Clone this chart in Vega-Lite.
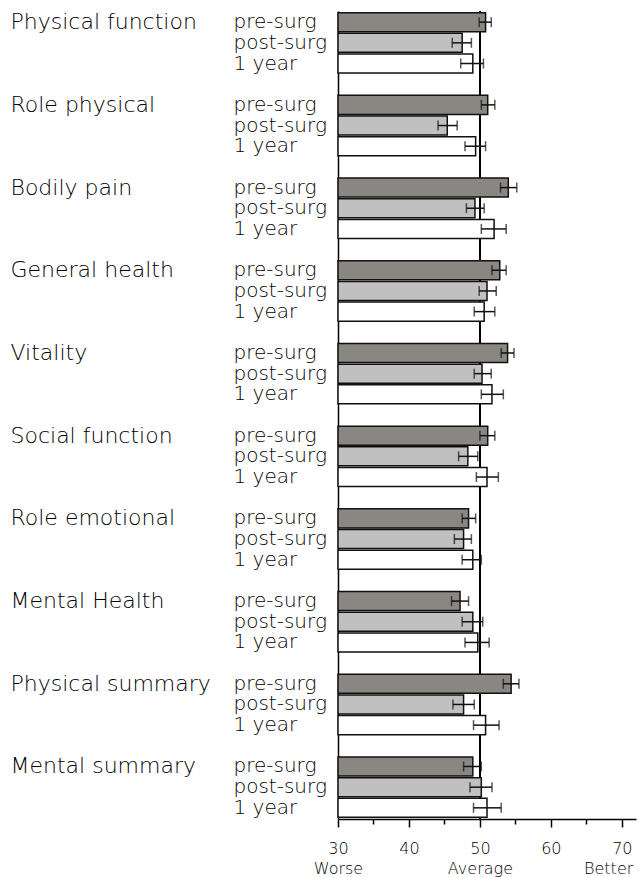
{
  "$schema": "https://vega.github.io/schema/vega-lite/v6.json",
  "autosize": {"type": "none"},
  "width": 298,
  "height": 808,
  "padding": {"left": 338, "top": 11, "right": 3, "bottom": 58},
  "background": "white",
  "config": {"view": {"stroke": null}},
  "data": {"values": [
    {"key": "Physical function|pre-surg", "group": "Physical function", "time": "pre-surg", "value": 50.8, "lo": 49.9, "hi": 51.6},
    {"key": "Physical function|post-surg", "group": "Physical function", "time": "post-surg", "value": 47.5, "lo": 46.1, "hi": 48.8},
    {"key": "Physical function|1 year", "group": "Physical function", "time": "1 year", "value": 49.0, "lo": 47.3, "hi": 50.5},
    {"key": "Role physical|pre-surg", "group": "Role physical", "time": "pre-surg", "value": 51.1, "lo": 50.2, "hi": 52.1},
    {"key": "Role physical|post-surg", "group": "Role physical", "time": "post-surg", "value": 45.4, "lo": 44.1, "hi": 46.8},
    {"key": "Role physical|1 year", "group": "Role physical", "time": "1 year", "value": 49.4, "lo": 47.9, "hi": 50.8},
    {"key": "Bodily pain|pre-surg", "group": "Bodily pain", "time": "pre-surg", "value": 54.0, "lo": 52.9, "hi": 55.2},
    {"key": "Bodily pain|post-surg", "group": "Bodily pain", "time": "post-surg", "value": 49.3, "lo": 48.1, "hi": 50.6},
    {"key": "Bodily pain|1 year", "group": "Bodily pain", "time": "1 year", "value": 52.0, "lo": 50.2, "hi": 53.7},
    {"key": "General health|pre-surg", "group": "General health", "time": "pre-surg", "value": 52.8, "lo": 51.7, "hi": 53.7},
    {"key": "General health|post-surg", "group": "General health", "time": "post-surg", "value": 51.0, "lo": 49.9, "hi": 52.3},
    {"key": "General health|1 year", "group": "General health", "time": "1 year", "value": 50.6, "lo": 49.2, "hi": 52.1},
    {"key": "Vitality|pre-surg", "group": "Vitality", "time": "pre-surg", "value": 53.9, "lo": 53.0, "hi": 54.8},
    {"key": "Vitality|post-surg", "group": "Vitality", "time": "post-surg", "value": 50.3, "lo": 49.2, "hi": 51.6},
    {"key": "Vitality|1 year", "group": "Vitality", "time": "1 year", "value": 51.7, "lo": 50.2, "hi": 53.3},
    {"key": "Social function|pre-surg", "group": "Social function", "time": "pre-surg", "value": 51.1, "lo": 50.0, "hi": 52.1},
    {"key": "Social function|post-surg", "group": "Social function", "time": "post-surg", "value": 48.3, "lo": 47.0, "hi": 49.7},
    {"key": "Social function|1 year", "group": "Social function", "time": "1 year", "value": 51.0, "lo": 49.5, "hi": 52.6},
    {"key": "Role emotional|pre-surg", "group": "Role emotional", "time": "pre-surg", "value": 48.4, "lo": 47.5, "hi": 49.4},
    {"key": "Role emotional|post-surg", "group": "Role emotional", "time": "post-surg", "value": 47.7, "lo": 46.4, "hi": 48.8},
    {"key": "Role emotional|1 year", "group": "Role emotional", "time": "1 year", "value": 49.0, "lo": 47.5, "hi": 50.2},
    {"key": "Mental Health|pre-surg", "group": "Mental Health", "time": "pre-surg", "value": 47.2, "lo": 46.0, "hi": 48.4},
    {"key": "Mental Health|post-surg", "group": "Mental Health", "time": "post-surg", "value": 49.0, "lo": 47.5, "hi": 50.4},
    {"key": "Mental Health|1 year", "group": "Mental Health", "time": "1 year", "value": 49.7, "lo": 47.9, "hi": 51.3},
    {"key": "Physical summary|pre-surg", "group": "Physical summary", "time": "pre-surg", "value": 54.4, "lo": 53.3, "hi": 55.5},
    {"key": "Physical summary|post-surg", "group": "Physical summary", "time": "post-surg", "value": 47.7, "lo": 46.2, "hi": 49.2},
    {"key": "Physical summary|1 year", "group": "Physical summary", "time": "1 year", "value": 50.8, "lo": 49.1, "hi": 52.7},
    {"key": "Mental summary|pre-surg", "group": "Mental summary", "time": "pre-surg", "value": 49.0, "lo": 47.7, "hi": 50.2},
    {"key": "Mental summary|post-surg", "group": "Mental summary", "time": "post-surg", "value": 50.2, "lo": 48.6, "hi": 51.7},
    {"key": "Mental summary|1 year", "group": "Mental summary", "time": "1 year", "value": 51.0, "lo": 49.1, "hi": 53.0}
  ]},
  "resolve": {"axis": {"y": "independent", "x": "independent"}},
  "layer": [
    {
      "mark": {"type": "rule", "color": "black", "strokeWidth": 1.5},
      "encoding": {"x": {"datum": 50, "axis": null}}
    },
    {
      "mark": {"type": "bar", "stroke": "#111111", "strokeWidth": 1.5},
      "encoding": {
        "y": {
          "field": "key", "type": "nominal",
          "scale": {
            "domain": [
              "Physical function|pre-surg", "Physical function|post-surg", "Physical function|1 year", "gap1",
              "Role physical|pre-surg", "Role physical|post-surg", "Role physical|1 year", "gap2",
              "Bodily pain|pre-surg", "Bodily pain|post-surg", "Bodily pain|1 year", "gap3",
              "General health|pre-surg", "General health|post-surg", "General health|1 year", "gap4",
              "Vitality|pre-surg", "Vitality|post-surg", "Vitality|1 year", "gap5",
              "Social function|pre-surg", "Social function|post-surg", "Social function|1 year", "gap6",
              "Role emotional|pre-surg", "Role emotional|post-surg", "Role emotional|1 year", "gap7",
              "Mental Health|pre-surg", "Mental Health|post-surg", "Mental Health|1 year", "gap8",
              "Physical summary|pre-surg", "Physical summary|post-surg", "Physical summary|1 year", "gap9",
              "Mental summary|pre-surg", "Mental summary|post-surg", "Mental summary|1 year"
            ],
            "paddingInner": 0.08, "paddingOuter": 0.08
          },
          "axis": {
            "orient": "left", "title": null, "grid": false,
            "ticks": false, "tickSize": 0,
            "domain": true, "domainColor": "black", "domainWidth": 1.5,
            "labelAlign": "left", "labelBaseline": "middle", "labelPadding": 105,
            "labelFont": "DejaVu Sans", "labelFontSize": 20, "labelFontWeight": 200, "labelColor": "black",
            "labelOverlap": false, "labelLimit": 0,
            "labelExpr": "indexof(datum.value, '|') > 0 ? split(datum.value, '|')[1] : ''"
          }
        },
        "x": {
          "field": "value", "type": "quantitative",
          "scale": {"domain": [30, 72], "nice": false, "zero": false},
          "axis": {
            "orient": "bottom", "title": null, "grid": false,
            "values": [30, 40, 50, 60, 70],
            "domainColor": "black", "domainWidth": 1.5,
            "tickColor": "black", "tickWidth": 1.5, "tickSize": 8,
            "labelFont": "DejaVu Sans", "labelFontSize": 16, "labelFontWeight": 200, "labelColor": "black",
            "labelPadding": 13, "labelBaseline": "top",
            "labelFlush": false, "labelOverlap": false, "labelBound": false
          }
        },
        "x2": {"datum": 30},
        "fill": {
          "field": "time", "type": "nominal", "legend": null,
          "scale": {"domain": ["pre-surg", "post-surg", "1 year"], "range": ["#8a8783", "#c0c0c0", "#ffffff"]}
        }
      }
    },
    {
      "mark": {"type": "rule", "color": "#111111", "strokeWidth": 1.5},
      "encoding": {
        "y": {
          "field": "key", "type": "nominal",
          "axis": {
            "orient": "left", "title": null, "grid": false,
            "ticks": false, "tickSize": 0, "domain": false,
            "labelAlign": "left", "labelBaseline": "middle", "labelPadding": 328,
            "labelFont": "DejaVu Sans", "labelFontSize": 22, "labelFontWeight": 200, "labelColor": "black",
            "labelOverlap": false, "labelLimit": 0,
            "labelExpr": "indexof(datum.value, '|pre-surg') > 0 ? split(datum.value, '|')[0] : ''"
          }
        },
        "x": {
          "field": "lo", "type": "quantitative",
          "axis": {
            "orient": "bottom", "title": null, "grid": false,
            "values": [30, 50, 70],
            "domain": false, "ticks": false, "tickSize": 0,
            "labelFont": "DejaVu Sans", "labelFontSize": 16, "labelFontWeight": 200, "labelColor": "black",
            "labelPadding": 41, "labelBaseline": "top",
            "labelAlign": {"condition": {"test": "datum.value == 70", "value": "right"}, "value": "center"},
            "labelOffset": {"condition": {"test": "datum.value == 70", "value": 11}, "value": 0},
            "labelFlush": false, "labelOverlap": false, "labelBound": false,
            "labelExpr": "datum.value == 30 ? 'Worse' : datum.value == 50 ? 'Average' : 'Better'"
          }
        },
        "x2": {"field": "hi"}
      }
    },
    {
      "mark": {"type": "tick", "color": "#111111", "thickness": 1.5, "size": 10},
      "encoding": {
        "y": {"field": "key", "type": "nominal", "axis": null},
        "x": {
          "field": "lo", "type": "quantitative",
          "axis": {
            "orient": "bottom", "title": null, "grid": false,
            "values": [35, 45, 55, 65],
            "domain": false, "labels": false,
            "tickColor": "black", "tickWidth": 1.5, "tickSize": 5
          }
        }
      }
    },
    {
      "mark": {"type": "tick", "color": "#111111", "thickness": 1.5, "size": 10},
      "encoding": {
        "y": {"field": "key", "type": "nominal", "axis": null},
        "x": {"field": "hi", "type": "quantitative", "axis": null}
      }
    }
  ]
}
